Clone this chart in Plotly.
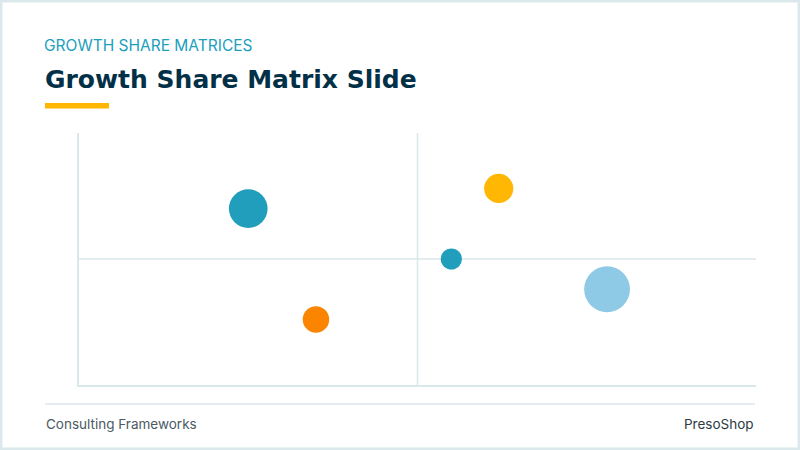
import plotly.graph_objects as go

# bubble data (market share index, growth index, revenue in $M)
names = ["Product A", "Product B", "Product C", "Product D", "Product E"]
share = [2.5, 3.5, 5.5, 6.2, 7.8]
growth = [7.0, 2.6, 5.0, 7.8, 3.8]
revenue = [15, 7, 4.5, 8.5, 21]
colors = ["#219ebc", "#fb8500", "#219ebc", "#ffb703", "#8ecae6"]

x_mid = 5
y_mid = 5

# page geometry (pixels) used to place decorations
W, H = 800, 450
L, R, T, B = 79, 44, 133, 65
pw, ph = W - L - R, H - T - B


def px_x(x):
    return (x - L) / pw


def px_y(y):
    return (H - B - y) / ph


fig = go.Figure()
fig.add_trace(go.Scatter(
    x=share, y=growth, mode="markers", text=names,
    marker=dict(size=revenue, sizemode="area", sizeref=0.02,
                color=colors, opacity=1, line=dict(width=0)),
    hoverinfo="text",
    showlegend=False,
))

line_col = "#dae7eb"
fig.add_shape(type="line", x0=x_mid, x1=x_mid, y0=0, y1=10,
              line=dict(color=line_col, width=1.5), layer="below")
fig.add_shape(type="line", x0=0, x1=10, y0=y_mid, y1=y_mid,
              line=dict(color=line_col, width=1.5), layer="below")

# slide decorations
fig.add_shape(type="rect", xref="paper", yref="paper",
              x0=px_x(1), x1=px_x(W - 1), y0=px_y(H - 1), y1=px_y(1),
              line=dict(color="#dbe9ec", width=3))
fig.add_shape(type="rect", xref="paper", yref="paper",
              x0=px_x(45), x1=px_x(109), y0=px_y(108.5), y1=px_y(103),
              fillcolor="#ffb703", line=dict(width=0))
fig.add_shape(type="line", xref="paper", yref="paper",
              x0=px_x(45), x1=px_x(755), y0=px_y(404), y1=px_y(404),
              line=dict(color="#dde7eb", width=1.5))

font = "Inter, Lato, sans-serif"
fig.add_annotation(text="GROWTH SHARE MATRICES", xref="paper", yref="paper",
                   x=px_x(42), y=px_y(46), xanchor="left", yanchor="middle",
                   showarrow=False, font=dict(family=font, size=15.5, color="#219ebc"))
fig.add_annotation(text="<b>Growth Share Matrix Slide</b>", xref="paper", yref="paper",
                   x=px_x(43), y=px_y(79), xanchor="left", yanchor="middle",
                   showarrow=False, font=dict(family="DejaVu Sans", size=25, color="#023047"))
fig.add_annotation(text="Consulting Frameworks", xref="paper", yref="paper",
                   x=px_x(44), y=px_y(424), xanchor="left", yanchor="middle",
                   showarrow=False, font=dict(family=font, size=13.5, color="#4b5a64"))
fig.add_annotation(text="PresoShop", xref="paper", yref="paper",
                   x=px_x(756), y=px_y(424), xanchor="right", yanchor="middle",
                   showarrow=False, font=dict(family=font, size=13.5, color="#2b3a44"))

fig.update_xaxes(range=[0, 10], showline=True, linecolor=line_col, linewidth=2,
                 showgrid=False, zeroline=False, showticklabels=False, ticks="")
fig.update_yaxes(range=[0, 10], showline=True, linecolor=line_col, linewidth=2,
                 showgrid=False, zeroline=False, showticklabels=False, ticks="")

fig.update_layout(
    width=W, height=H,
    margin=dict(l=L, r=R, t=T, b=B),
    plot_bgcolor="white", paper_bgcolor="white",
)

fig.write_html("out.html", config={"displayModeBar": False},
               post_script="document.body.style.margin='0';")
